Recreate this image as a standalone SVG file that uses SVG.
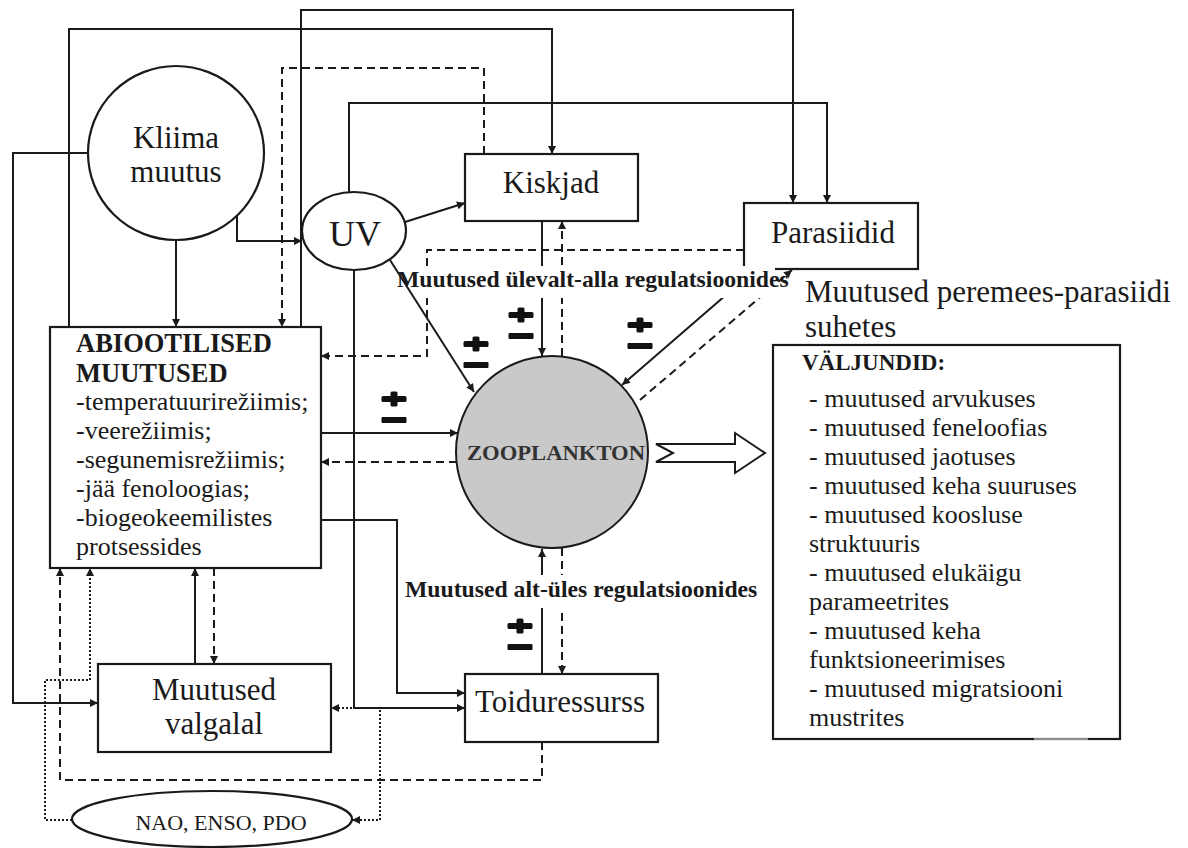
<svg xmlns="http://www.w3.org/2000/svg" xmlns:xlink="http://www.w3.org/1999/xlink" width="1188" height="848" viewBox="0 0 1188 848">
  <style>
    .ln { fill: none; stroke: #1a1a1a; stroke-width: 2; }
    .dash { stroke-dasharray: 8 5; }
    .dot { stroke-dasharray: 2 2; }
    .box { fill: #fff; stroke: #1a1a1a; stroke-width: 2.2; }
    .t { font-family: "Liberation Serif", "Times New Roman", serif; fill: #1a1a1a; }
    .big { font-size: 31px; }
    .lst { font-size: 26px; }
    .b { font-weight: bold; }
    .mid { text-anchor: middle; }
  </style>
  <defs>
    <marker id="ah" viewBox="0 0 10 10" refX="10" refY="5" markerWidth="9" markerHeight="8" markerUnits="userSpaceOnUse" orient="auto-start-reverse">
      <path d="M0,0 L10,5 L0,10 z" fill="#1a1a1a"/>
    </marker>
    <!-- heavy plus over minus sign -->
    <g id="pm" fill="#111">
      <rect x="-12.5" y="-3" width="25" height="6" rx="1.5"/>
      <rect x="-3.5" y="-7.5" width="7" height="15" rx="1.5"/>
      <rect x="-12.5" y="18" width="25" height="6" rx="1"/>
    </g>
  </defs>

  <rect width="1188" height="848" fill="#fff"/>

  <g id="connectors">
    <!-- solid links -->
    <path class="ln" d="M69,327 V29 H552 V154" marker-end="url(#ah)"/>
    <path class="ln" d="M301,327 V10 H793 V203" marker-end="url(#ah)"/>
    <path class="ln" d="M349,192 V103 H827 V203" marker-end="url(#ah)"/>
    <path class="ln" d="M88,153 H13 V703 H98" marker-end="url(#ah)"/>
    <path class="ln" d="M176,240 V327" marker-end="url(#ah)"/>
    <path class="ln" d="M237,215 V241 H302" marker-end="url(#ah)"/>
    <path class="ln" d="M405,222 L465,203" marker-end="url(#ah)"/>
    <path class="ln" d="M390,260 L474,392" marker-end="url(#ah)"/>
    <path class="ln" d="M354,270 V708 H465" marker-end="url(#ah)"/>
    <path class="ln" d="M195,664 V568" marker-end="url(#ah)"/>
    <path class="ln" d="M321,433 H458" marker-end="url(#ah)"/>
    <path class="ln" d="M321,520 H397 V693 H465" marker-end="url(#ah)"/>
    <path class="ln" d="M542,221 V356" marker-end="url(#ah)"/>
    <path class="ln" d="M542,674 V549" marker-end="url(#ah)"/>
    <path class="ln" d="M756,269 L622,385" marker-end="url(#ah)"/>
    <!-- dashed links -->
    <path class="ln dash" d="M484,154 V68 H282 V327" marker-end="url(#ah)"/>
    <path class="ln dash" d="M744,250 H427 V356 H321" marker-end="url(#ah)"/>
    <path class="ln dash" d="M457,462 H321" marker-end="url(#ah)"/>
    <path class="ln dash" d="M214,568 V664" marker-end="url(#ah)"/>
    <path class="ln dash" d="M542,742 V780 H60 V568" marker-end="url(#ah)"/>
    <path class="ln dash" d="M562,356 V221" marker-end="url(#ah)"/>
    <path class="ln dash" d="M562,548 V674" marker-end="url(#ah)"/>
    <path class="ln dash" d="M640,400 L792,270" marker-end="url(#ah)"/>
    <!-- dotted links from the oscillation indices -->
    <path class="ln dot" d="M72,820 H45 V680 H90 V568" marker-end="url(#ah)"/>
    <path class="ln dot" d="M352,820 H380 V708 H331" marker-start="url(#ah)" marker-end="url(#ah)"/>
    <!-- outcome arrow -->
    <polygon points="656,444 735,444 735,433 765,453 735,473 735,462 656,462 673,453" fill="#fff" stroke="#1a1a1a" stroke-width="2" stroke-linejoin="miter"/>
  </g>

  <g id="signs">
    <use xlink:href="#pm" x="521" y="315"/>
    <use xlink:href="#pm" x="476" y="344"/>
    <use xlink:href="#pm" x="640" y="325"/>
    <use xlink:href="#pm" x="394" y="399"/>
    <use xlink:href="#pm" x="520" y="626"/>
  </g>

  <g id="kliima">
    <ellipse cx="176" cy="153" rx="88" ry="87" class="box"/>
    <text class="t big mid" x="176" y="148">Kliima</text>
    <text class="t big mid" x="176" y="182">muutus</text>
  </g>

  <g id="uv">
    <ellipse cx="354" cy="231" rx="52" ry="39" class="box"/>
    <text class="t mid" x="355" y="246" font-size="36">UV</text>
  </g>

  <g id="kiskjad">
    <rect x="465" y="154" width="173" height="67" class="box"/>
    <text class="t big mid" x="551" y="193">Kiskjad</text>
  </g>

  <g id="parasiidid">
    <rect x="744" y="203" width="174" height="66" class="box"/>
    <text class="t big mid" x="833" y="243">Parasiidid</text>
  </g>

  <g id="abiootilised">
    <rect x="50" y="327" width="271" height="241" class="box"/>
    <text class="t b" x="76" y="352" font-size="26.5">ABIOOTILISED</text>
    <text class="t b" x="76" y="382" font-size="26.5">MUUTUSED</text>
    <text class="t lst" x="76" y="410">-temperatuurirežiimis;</text>
    <text class="t lst" x="76" y="439">-veerežiimis;</text>
    <text class="t lst" x="76" y="468">-segunemisrežiimis;</text>
    <text class="t lst" x="76" y="497">-jää fenoloogias;</text>
    <text class="t lst" x="76" y="526">-biogeokeemilistes</text>
    <text class="t lst" x="76" y="555">protsessides</text>
  </g>

  <g id="zooplankton">
    <circle cx="552" cy="452" r="96" fill="#c9c9c9" stroke="#1a1a1a" stroke-width="2"/>
    <text class="t b" x="467" y="460" font-size="21" fill="#333" textLength="178" lengthAdjust="spacingAndGlyphs" style="fill:#333">ZOOPLANKTON</text>
  </g>

  <g id="valgala">
    <rect x="98" y="664" width="233" height="88" class="box"/>
    <text class="t big mid" x="214" y="700">Muutused</text>
    <text class="t big mid" x="214" y="734">valgalal</text>
  </g>

  <g id="toiduressurss">
    <rect x="465" y="674" width="193" height="68" class="box"/>
    <text class="t big mid" x="560" y="712">Toiduressurss</text>
  </g>

  <g id="indeksid">
    <ellipse cx="212" cy="819" rx="140" ry="28" class="box"/>
    <text class="t mid" x="221" y="830" font-size="22">NAO, ENSO, PDO</text>
  </g>

  <g id="valjundid">
    <rect x="773" y="345" width="347" height="394" class="box"/>
    <line x1="1034" y1="739" x2="1088" y2="739" stroke="#fff" stroke-width="1"/>
    <text class="t b" x="802" y="370" font-size="23">VÄLJUNDID:</text>
    <text class="t lst" x="809" y="407">- muutused arvukuses</text>
    <text class="t lst" x="809" y="436">- muutused feneloofias</text>
    <text class="t lst" x="809" y="465">- muutused jaotuses</text>
    <text class="t lst" x="809" y="494">- muutused keha suuruses</text>
    <text class="t lst" x="809" y="523">- muutused koosluse</text>
    <text class="t lst" x="809" y="552">struktuuris</text>
    <text class="t lst" x="809" y="581">- muutused elukäigu</text>
    <text class="t lst" x="809" y="610">parameetrites</text>
    <text class="t lst" x="809" y="639">- muutused keha</text>
    <text class="t lst" x="809" y="668">funktsioneerimises</text>
    <text class="t lst" x="809" y="697">- muutused migratsiooni</text>
    <text class="t lst" x="809" y="726">mustrites</text>
  </g>

  <g id="labels">
    <rect x="415" y="266" width="360" height="32" fill="#fff"/>
    <text class="t b" x="397" y="287" font-size="23.7">Muutused ülevalt-alla regulatsioonides</text>
    <rect x="402" y="575" width="358" height="33" fill="#fff"/>
    <text class="t b" x="405" y="597" font-size="23.7">Muutused alt-üles regulatsioonides</text>
    <text class="t big" x="805" y="302">Muutused peremees-parasiidi</text>
    <text class="t big" x="805" y="337">suhetes</text>
  </g>
</svg>
